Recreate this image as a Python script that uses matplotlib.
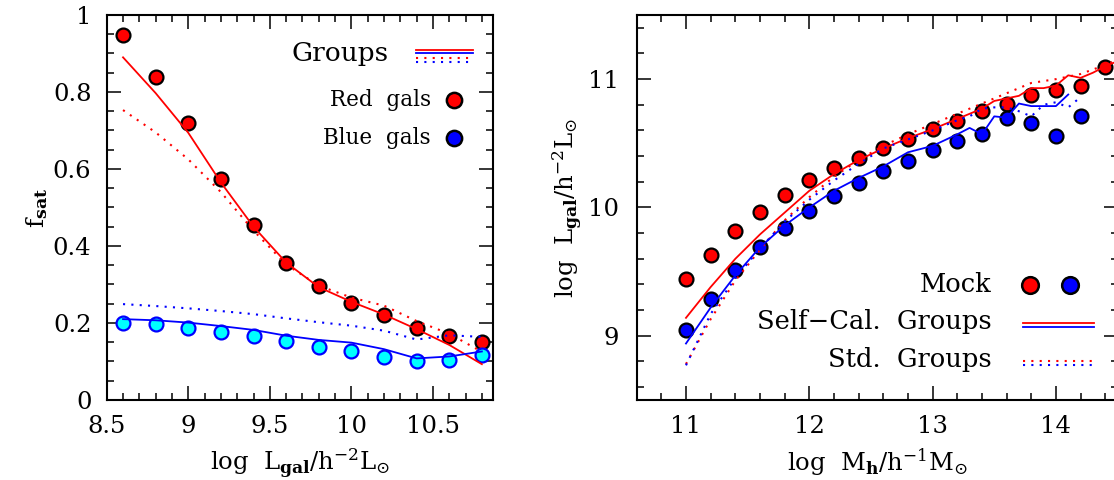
import matplotlib
matplotlib.use("Agg")
import matplotlib.pyplot as plt
from matplotlib.ticker import MultipleLocator, FormatStrFormatter
from matplotlib.lines import Line2D

plt.rcParams['font.family'] = ['DejaVu Serif']
plt.rcParams['mathtext.fontset'] = 'dejavuserif'

# ---- left panel: satellite fraction vs luminosity
lum = [8.6, 8.8, 9.0, 9.2, 9.4, 9.6, 9.8, 10.0, 10.2, 10.4, 10.6, 10.8]
red_mock = [0.948, 0.840, 0.720, 0.575, 0.455, 0.357, 0.297, 0.253, 0.220, 0.188, 0.166, 0.151]
blue_mock = [0.199, 0.197, 0.186, 0.176, 0.166, 0.153, 0.138, 0.128, 0.112, 0.101, 0.104, 0.117]
red_sc = [0.890, 0.797, 0.694, 0.565, 0.450, 0.357, 0.293, 0.255, 0.222, 0.184, 0.143, 0.093]
red_std = [0.753, 0.695, 0.625, 0.540, 0.440, 0.352, 0.297, 0.266, 0.245, 0.205, 0.172, 0.125]
blue_sc = [0.210, 0.207, 0.201, 0.192, 0.182, 0.167, 0.156, 0.149, 0.132, 0.108, 0.113, 0.126]
blue_std = [0.249, 0.244, 0.238, 0.231, 0.223, 0.212, 0.202, 0.193, 0.180, 0.157, 0.168, 0.164]

# ---- right panel: galaxy luminosity vs halo mass
mh_mock_red = [11.0, 11.2, 11.4, 11.6, 11.8, 12.0, 12.2, 12.4, 12.6, 12.8, 13.0, 13.2,
               13.4, 13.6, 13.8, 14.0, 14.2, 14.4]
lg_mock_red = [9.443, 9.628, 9.815, 9.966, 10.099, 10.214, 10.307, 10.383, 10.461, 10.534,
               10.609, 10.672, 10.750, 10.807, 10.878, 10.919, 10.945, 11.093]
mh_mock_blue = [11.0, 11.2, 11.4, 11.6, 11.8, 12.0, 12.2, 12.4, 12.6, 12.8, 13.0, 13.2,
                13.4, 13.6, 13.8, 14.0, 14.2]
lg_mock_blue = [9.044, 9.289, 9.516, 9.693, 9.844, 9.971, 10.089, 10.193, 10.284, 10.362,
                10.448, 10.521, 10.570, 10.695, 10.661, 10.555, 10.715]

mh_red_sc = [11.0, 11.2, 11.4, 11.6, 11.8, 12.0, 12.2, 12.4, 12.6, 12.8, 13.0, 13.2, 13.3,
             13.4, 13.5, 13.6, 13.7, 13.8, 13.9, 14.0, 14.1, 14.2, 14.3, 14.4, 14.5]
lg_red_sc = [9.14, 9.38, 9.60, 9.79, 9.96, 10.13, 10.26, 10.37, 10.46, 10.54, 10.61, 10.69,
             10.73, 10.77, 10.83, 10.85, 10.87, 10.93, 10.93, 10.95, 11.03, 11.01, 11.05,
             11.10, 11.14]
mh_red_std = [11.0, 11.2, 11.4, 11.6, 11.8, 12.0, 12.2, 12.4, 12.6, 12.8, 13.0, 13.2, 13.4,
              13.6, 13.8, 14.0, 14.2, 14.4, 14.5]
lg_red_std = [8.78, 9.13, 9.43, 9.67, 9.90, 10.08, 10.24, 10.37, 10.48, 10.57, 10.65, 10.73,
              10.81, 10.89, 10.97, 11.00, 11.04, 11.11, 11.15]
mh_blue_sc = [11.0, 11.2, 11.4, 11.6, 11.8, 12.0, 12.2, 12.4, 12.6, 12.8, 13.0, 13.2, 13.3,
              13.4, 13.5, 13.6, 13.7, 13.8, 13.9, 14.0, 14.1]
lg_blue_sc = [8.94, 9.22, 9.47, 9.69, 9.86, 10.00, 10.13, 10.23, 10.32, 10.43, 10.48, 10.57,
              10.62, 10.57, 10.71, 10.70, 10.81, 10.79, 10.79, 10.79, 10.88]
mh_blue_std = [11.0, 11.2, 11.4, 11.6, 11.8, 12.0, 12.2, 12.4, 12.6, 12.8, 13.0, 13.2, 13.3,
               13.4, 13.5, 13.6, 13.7, 13.8, 13.9, 14.0, 14.1, 14.2]
lg_blue_std = [8.77, 9.17, 9.45, 9.68, 9.89, 10.06, 10.21, 10.34, 10.46, 10.53, 10.60, 10.68,
               10.71, 10.77, 10.78, 10.78, 10.75, 10.71, 10.80, 10.82, 10.78, 10.86]

RED, BLUE, CYAN = '#ff0000', '#0000ff', '#00ffff'
DOT = (0, (1, 3))
LW = 1.3
MS = 10


def style_axes(ax):
    for s in ax.spines.values():
        s.set_linewidth(1.5)
    ax.tick_params(which='both', direction='in', top=True, right=True, width=1.1,
                   labelsize=17.5)
    ax.tick_params(which='major', length=10, pad=11)
    ax.tick_params(which='minor', length=5)
    ax.xaxis.set_major_formatter(FormatStrFormatter('%g'))
    ax.yaxis.set_major_formatter(FormatStrFormatter('%g'))


fig = plt.figure(figsize=(11.14, 4.8), dpi=100)

# left panel
ax1 = fig.add_axes([0.0958, 0.1667, 0.3470, 0.8021])
ax1.plot(lum, red_mock, 'o', ms=MS, mfc=RED, mec='black', mew=1.6, zorder=2)
ax1.plot(lum, blue_mock, 'o', ms=MS, mfc=CYAN, mec=BLUE, mew=1.6, zorder=2)
ax1.plot(lum, red_sc, color=RED, lw=LW, zorder=3)
ax1.plot(lum, red_std, color=RED, lw=1.5, ls=DOT, zorder=3)
ax1.plot(lum, blue_sc, color=BLUE, lw=LW, zorder=3)
ax1.plot(lum, blue_std, color=BLUE, lw=1.5, ls=DOT, zorder=3)
ax1.set_xlim(8.5, 10.87)
ax1.set_ylim(0, 1)
ax1.xaxis.set_major_locator(MultipleLocator(0.5))
ax1.xaxis.set_minor_locator(MultipleLocator(0.1))
ax1.yaxis.set_major_locator(MultipleLocator(0.2))
ax1.yaxis.set_minor_locator(MultipleLocator(0.05))
style_axes(ax1)
ax1.set_xlabel(r'log  L$_{\mathbf{gal}}$/h$^{-2}$L$_{\odot}$', fontsize=17.5, labelpad=6)
ax1.set_ylabel(r'f$_{\mathbf{sat}}$', fontsize=18, labelpad=2)

# left legend
t = ax1.transAxes
ax1.text(0.730, 0.901, 'Groups', transform=t, ha='right', va='center', fontsize=19)
for y, c, ls in [(0.909, RED, '-'), (0.9005, BLUE, '-'), (0.8875, RED, DOT), (0.877, BLUE, DOT)]:
    ax1.add_line(Line2D([0.800, 0.948], [y, y], transform=t, color=c, lw=LW if ls == '-' else 1.5, ls=ls))
ax1.text(0.838, 0.779, 'Red  gals', transform=t, ha='right', va='center', fontsize=15.5)
ax1.add_line(Line2D([0.898], [0.779], transform=t, marker='o', ms=11, mfc=RED, mec='black', mew=1.8))
ax1.text(0.838, 0.680, 'Blue  gals', transform=t, ha='right', va='center', fontsize=15.5)
ax1.add_line(Line2D([0.898], [0.680], transform=t, marker='o', ms=11, mfc=BLUE, mec='black', mew=1.8))

# right panel
ax2 = fig.add_axes([0.5715, 0.1667, 0.4317, 0.8021])
ax2.plot(mh_mock_red, lg_mock_red, 'o', ms=MS, mfc=RED, mec='black', mew=1.6, zorder=2)
ax2.plot(mh_mock_blue, lg_mock_blue, 'o', ms=MS, mfc=BLUE, mec='black', mew=1.6, zorder=2)
ax2.plot(mh_red_sc, lg_red_sc, color=RED, lw=LW, zorder=3)
ax2.plot(mh_red_std, lg_red_std, color=RED, lw=1.5, ls=DOT, zorder=3)
ax2.plot(mh_blue_sc, lg_blue_sc, color=BLUE, lw=LW, zorder=3)
ax2.plot(mh_blue_std, lg_blue_std, color=BLUE, lw=1.5, ls=DOT, zorder=3)
ax2.set_xlim(10.6, 14.5)
ax2.set_ylim(8.5, 11.5)
ax2.xaxis.set_major_locator(MultipleLocator(1))
ax2.xaxis.set_minor_locator(MultipleLocator(0.2))
ax2.yaxis.set_major_locator(MultipleLocator(1))
ax2.yaxis.set_minor_locator(MultipleLocator(0.2))
style_axes(ax2)
ax2.tick_params(which='major', axis='y', pad=13)
ax2.set_xlabel(r'log  M$_{\mathbf{h}}$/h$^{-1}$M$_{\odot}$', fontsize=17.5, labelpad=6)
ax2.set_ylabel(r'log  L$_{\mathbf{gal}}$/h$^{-2}$L$_{\odot}$', fontsize=17.5, labelpad=2)

# right legend
t = ax2.transAxes
ax2.text(0.738, 0.2987, 'Mock', transform=t, ha='right', va='center', fontsize=18.5)
ax2.add_line(Line2D([0.818], [0.2987], transform=t, marker='o', ms=12, mfc=RED, mec='black', mew=1.8))
ax2.add_line(Line2D([0.901], [0.2987], transform=t, marker='o', ms=12, mfc=BLUE, mec='black', mew=1.8))
ax2.text(0.738, 0.2034, 'Self\u2212Cal.  Groups', transform=t, ha='right', va='center', fontsize=18.5)
ax2.add_line(Line2D([0.803, 0.951], [0.199, 0.199], transform=t, color=RED, lw=LW))
ax2.add_line(Line2D([0.803, 0.951], [0.190, 0.190], transform=t, color=BLUE, lw=LW))
ax2.text(0.738, 0.104, 'Std.  Groups', transform=t, ha='right', va='center', fontsize=18.5)
ax2.add_line(Line2D([0.803, 0.951], [0.102, 0.102], transform=t, color=RED, lw=1.5, ls=DOT))
ax2.add_line(Line2D([0.803, 0.951], [0.091, 0.091], transform=t, color=BLUE, lw=1.5, ls=DOT))

fig.savefig('out.png', dpi=100)
